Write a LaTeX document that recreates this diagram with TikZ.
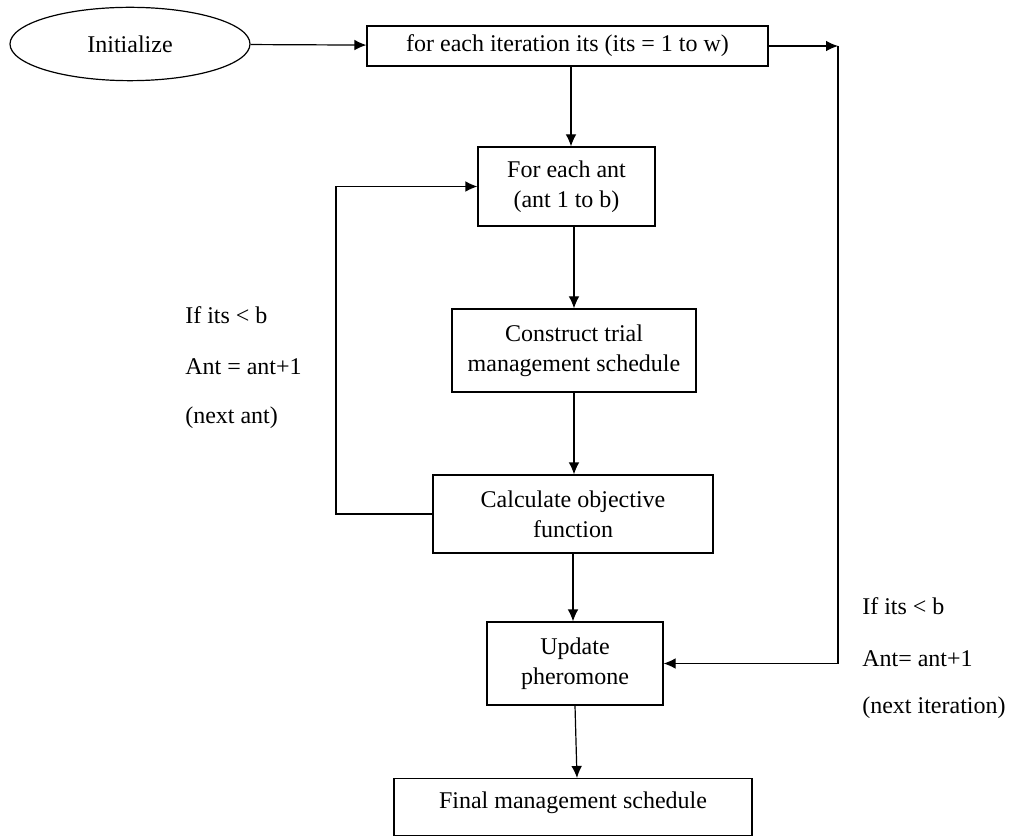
\documentclass[tikz,border=0pt]{standalone}
\usepackage{fontspec}
\setmainfont{Liberation Serif}
\usetikzlibrary{shapes.geometric,arrows.meta}
\begin{document}
\begin{tikzpicture}[x=0.75pt,y=-0.75pt,
  every node/.style={font=\fontsize{18}{22.5}\selectfont},
  boxnode/.style={draw,rectangle,line width=0.9pt,inner sep=0pt,align=center},
  arr/.style={line width=0.9pt,-{Latex[length=9pt,width=8pt]}},
  ln/.style={line width=0.9pt},
  lbl/.style={anchor=base west,inner sep=0pt}]
\useasboundingbox (0,0) rectangle (1012,837);
\node[draw,ellipse,line width=0.9pt,minimum width=180pt,minimum height=55pt,inner sep=0pt] (init) at (130,44) {Initialize};
\node[boxnode,minimum width=300.75pt,minimum height=30pt] (top) at (567.5,46) {for each iteration its (its = 1 to w)};
\node[boxnode,minimum width=132.75pt,minimum height=59.25pt] (ant) at (566.5,186.5) {For each ant\\(ant 1 to b)};
\node[boxnode,minimum width=183pt,minimum height=62.25pt] (con) at (574,350.5) {Construct trial\\management schedule};
\node[boxnode,minimum width=210pt,minimum height=58.5pt] (calc) at (573,514) {Calculate objective\\function};
\node[boxnode,minimum width=132pt,minimum height=62.25pt] (upd) at (575,663.5) {Update\\pheromone};
\node[boxnode,minimum width=268.5pt,minimum height=42.75pt,anchor=north] (fin) at (573,778) {};
\node (fintext) at (573,803) {Final management schedule};
\coordinate (rc) at (838,46);
\draw[arr] (init) -- (top);
\draw[arr] (top.east) -- (rc);
\draw[ln,-{Latex[length=9pt,width=8pt]}] (rc) |- (upd.east);
\draw[arr] (top.south -| 571,0) -- (ant.north -| 571,0);
\draw[arr] (ant.south -| 574,0) -- (con.north -| 574,0);
\draw[arr] (con.south -| 574,0) -- (calc.north -| 574,0);
\draw[arr] (calc.south -| 573,0) -- (upd.north -| 573,0);
\draw[arr] (upd.south -| 575,0) -- (fin.north -| 577,0);
\draw[arr] (calc.west) -- (calc.west -| 336,0) |- (ant.west);
\node[lbl] (l1) at (185,324) {If its < b};
\node[lbl] (l2) at (185,374) {Ant = ant+1};
\node[lbl] (l3) at (185,423) {(next ant)};
\node[lbl] (r1) at (862,614) {If its < b};
\node[lbl] (r2) at (862,666) {Ant= ant+1};
\node[lbl] (r3) at (862,713) {(next iteration)};
\end{tikzpicture}
\end{document}
